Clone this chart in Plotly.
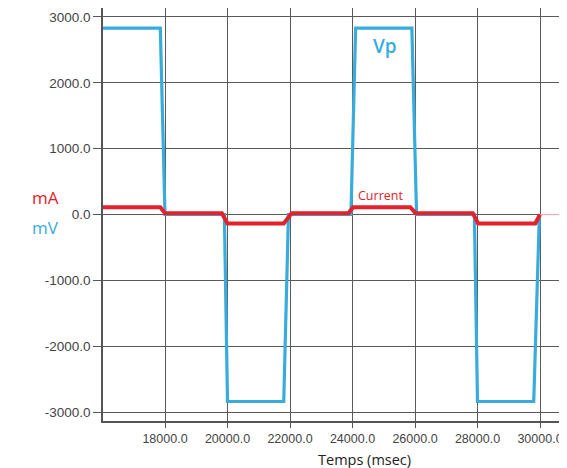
import plotly.graph_objects as go

# Vp (mV)
vp_t = [16000, 17850, 18000, 19900, 20000, 21800, 21950, 23950, 24100, 25900, 26050, 27900, 28000, 29800, 29980]
vp_v = [2830, 2830, 0, 0, -2840, -2840, 0, 0, 2830, 2830, 0, 0, -2840, -2840, 0]

# Current (mA, plotted on same scale)
cur_t = [16000, 17850, 18000, 19820, 20000, 21800, 22050, 23870, 24020, 25850, 26020, 27850, 28020, 29850, 30000]
cur_v = [110, 110, 20, 20, -135, -135, 20, 20, 110, 110, 20, 20, -135, -135, 0]

tail_t = [30000, 31000]
tail_v = [0, 0]

x_ticks = [18000, 20000, 22000, 24000, 26000, 28000, 30000]
y_ticks = [-3000, -2000, -1000, 0, 1000, 2000, 3000]

BLUE = "#38acdc"
RED = "#e3222b"

fig = go.Figure()
fig.add_trace(go.Scatter(x=vp_t, y=vp_v, mode="lines", line=dict(color=BLUE, width=3.2), name="Vp"))
fig.add_trace(go.Scatter(x=tail_t, y=tail_v, mode="lines", line=dict(color="#f0a8b8", width=1.2), name="tail"))
fig.add_trace(go.Scatter(x=cur_t, y=cur_v, mode="lines", line=dict(color=RED, width=4), name="Current"))

fig.update_layout(
    width=559, height=460,
    margin=dict(l=95, r=0, t=0, b=47),
    paper_bgcolor="white", plot_bgcolor="white",
    showlegend=False,
    xaxis=dict(
        range=[16016, 30864],
        tickvals=x_ticks,
        ticktext=[f"{v:.1f}" for v in x_ticks],
        showgrid=True, gridcolor="#5a5a5a", gridwidth=1,
        showline=True, linecolor="#555555", linewidth=1.5,
        ticks="outside", ticklen=5, tickcolor="#555555",
        tickfont=dict(family="Liberation Sans, Arial", size=12.5, color="#444444"),
        zeroline=False, fixedrange=True,
    ),
    yaxis=dict(
        range=[-3136, 3136],
        tickvals=y_ticks,
        ticktext=[f"{v:.1f}" for v in y_ticks],
        showgrid=True, gridcolor="#5a5a5a", gridwidth=1,
        showline=True, linecolor="#555555", linewidth=1.5,
        ticks="outside", ticklen=8, tickcolor="#555555",
        tickfont=dict(family="Liberation Sans, Arial", size=13.5, color="#444444"),
        zeroline=False, fixedrange=True,
    ),
    annotations=[
        dict(text="Vp", x=25040, y=2560, xref="x", yref="y", showarrow=False,
             font=dict(family="Open Sans", size=19, color=BLUE, weight=600)),
        dict(text="Current", x=24900, y=290, xref="x", yref="y", showarrow=False,
             font=dict(family="Open Sans", size=12.5, color=RED)),
        dict(text="mA", x=-0.157, y=0.540, xref="paper", yref="paper", showarrow=False,
             font=dict(family="Open Sans", size=17, color=RED)),
        dict(text="mV", x=-0.157, y=0.4697, xref="paper", yref="paper", showarrow=False,
             font=dict(family="Open Sans", size=17, color=BLUE)),
        dict(text="Temps (msec)", x=0.5625, y=-0.0944, xref="paper", yref="paper", showarrow=False,
             yanchor="middle", font=dict(family="Open Sans", size=14.5, color="#222222")),
    ],
)

fig.write_html("out.html")
